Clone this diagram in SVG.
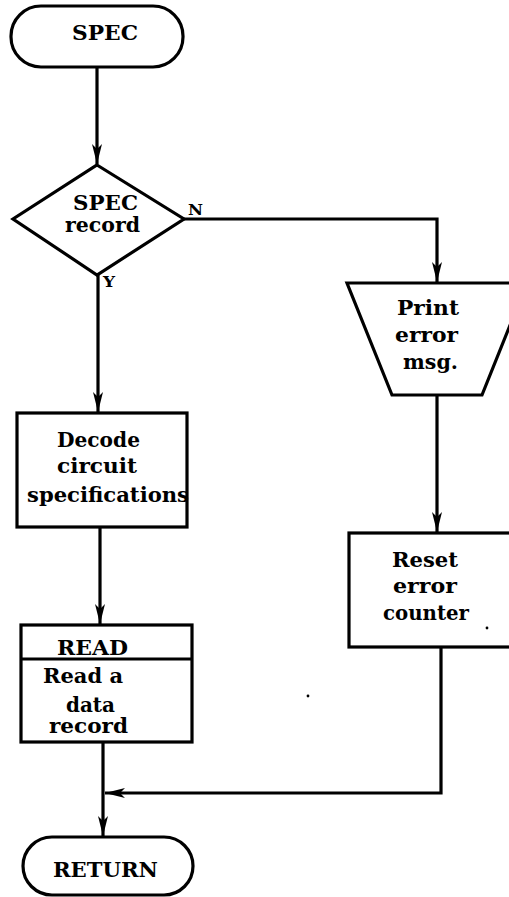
<svg xmlns="http://www.w3.org/2000/svg" width="509" height="897" viewBox="0 0 509 897">
  <style>
    .shape { fill: #fff; stroke: #000; stroke-width: 3.2; stroke-linejoin: miter; }
    .line { fill: none; stroke: #000; stroke-width: 3.2; }
    .lbl { font-family: "DejaVu Serif", "Liberation Serif", serif; font-weight: bold; font-size: 19.5px; fill: #000; }
    .tag { font-family: "DejaVu Serif", "Liberation Serif", serif; font-weight: bold; font-size: 14px; fill: #000; }
  </style>
  <defs>
    <marker id="arrow" viewBox="0 0 20 10" refX="20" refY="5" markerWidth="20" markerHeight="10" orient="auto" markerUnits="userSpaceOnUse">
      <path d="M0,0 L20,5 L0,10 L5,5 Z" fill="#000"/>
    </marker>
  </defs>

  <g id="connectors">
    <path class="line" d="M97,67 V164" marker-end="url(#arrow)"/>
    <path class="line" d="M184,219 H437 V282" marker-end="url(#arrow)"/>
    <path class="line" d="M98,275 V412" marker-end="url(#arrow)"/>
    <path class="line" d="M100,527 V624" marker-end="url(#arrow)"/>
    <path class="line" d="M437,395 V532" marker-end="url(#arrow)"/>
    <path class="line" d="M103,742 V836" marker-end="url(#arrow)"/>
    <path class="line" d="M441,647 V793 H105" marker-end="url(#arrow)"/>
    <text class="tag" x="188" y="215" textLength="15" lengthAdjust="spacingAndGlyphs">N</text>
    <text class="tag" x="103" y="287" textLength="12" lengthAdjust="spacingAndGlyphs">Y</text>
  </g>

  <g id="spec">
    <rect class="shape" x="11" y="6" width="172" height="61" rx="30" ry="30"/>
    <text class="lbl" x="72" y="40" textLength="66" lengthAdjust="spacingAndGlyphs">SPEC</text>
  </g>

  <g id="spec-record">
    <polygon class="shape" points="97,165 184,219 97,275 13,219"/>
    <text class="lbl" x="73" y="210" textLength="65" lengthAdjust="spacingAndGlyphs">SPEC</text>
    <text class="lbl" x="65" y="232" textLength="75" lengthAdjust="spacingAndGlyphs">record</text>
  </g>

  <g id="print-error">
    <polygon class="shape" points="347,283 527,283 482,395 392,395"/>
    <text class="lbl" x="397" y="315" textLength="62" lengthAdjust="spacingAndGlyphs">Print</text>
    <text class="lbl" x="395" y="342" textLength="63" lengthAdjust="spacingAndGlyphs">error</text>
    <text class="lbl" x="403" y="369" textLength="55" lengthAdjust="spacingAndGlyphs">msg.</text>
  </g>

  <g id="decode">
    <rect class="shape" x="17" y="413" width="170" height="114"/>
    <text class="lbl" x="57" y="447" textLength="83" lengthAdjust="spacingAndGlyphs">Decode</text>
    <text class="lbl" x="57" y="473" textLength="80" lengthAdjust="spacingAndGlyphs">circuit</text>
    <text class="lbl" x="27" y="502" textLength="162" lengthAdjust="spacingAndGlyphs">specifications</text>
  </g>

  <g id="reset">
    <rect class="shape" x="349" y="533" width="170" height="114"/>
    <text class="lbl" x="392" y="567" textLength="66" lengthAdjust="spacingAndGlyphs">Reset</text>
    <text class="lbl" x="393" y="593" textLength="64" lengthAdjust="spacingAndGlyphs">error</text>
    <text class="lbl" x="383" y="620" textLength="86" lengthAdjust="spacingAndGlyphs">counter</text>
    <circle cx="487" cy="628" r="1.4" fill="#000"/>
  </g>

  <g id="read">
    <rect class="shape" x="21" y="625" width="171" height="117"/>
    <line class="line" x1="21" y1="659" x2="192" y2="659" stroke-width="2"/>
    <text class="lbl" x="57" y="655" textLength="71" lengthAdjust="spacingAndGlyphs">READ</text>
    <text class="lbl" x="43" y="683" textLength="80" lengthAdjust="spacingAndGlyphs">Read a</text>
    <text class="lbl" x="66" y="712" textLength="49" lengthAdjust="spacingAndGlyphs">data</text>
    <text class="lbl" x="49" y="733" textLength="79" lengthAdjust="spacingAndGlyphs">record</text>
  </g>

  <circle cx="308" cy="696" r="1.4" fill="#000"/>

  <g id="return">
    <rect class="shape" x="23" y="837" width="170" height="58" rx="29" ry="29"/>
    <text class="lbl" x="53" y="877" font-size="21" textLength="105" lengthAdjust="spacingAndGlyphs">RETURN</text>
  </g>
</svg>
